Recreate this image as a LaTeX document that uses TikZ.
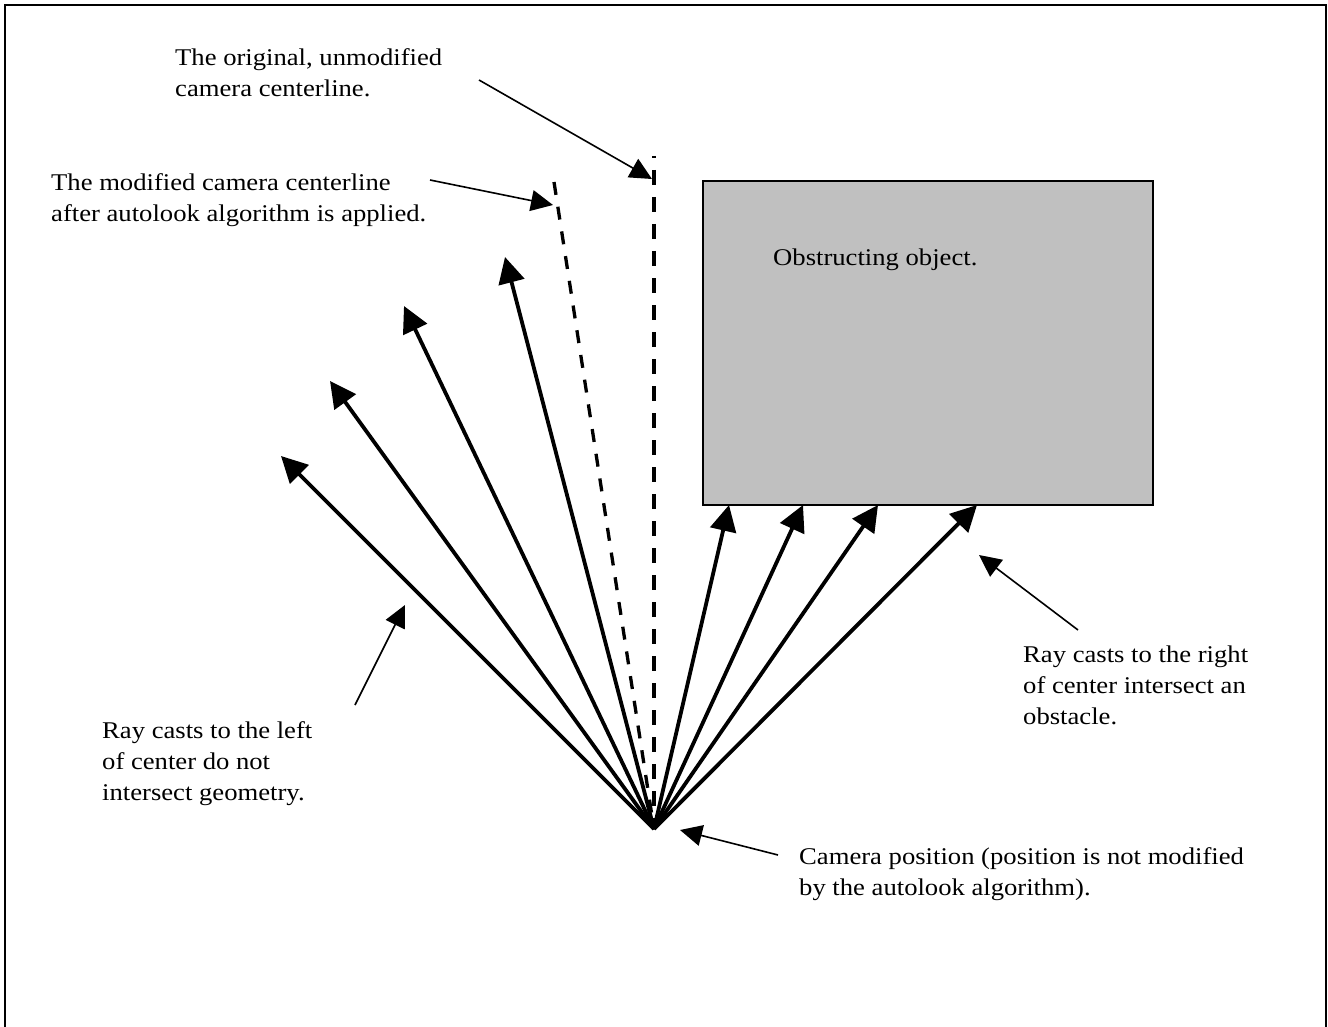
\documentclass[tikz,border=0pt]{standalone}
\usepackage{fontspec}
\setmainfont{Liberation Serif}[FakeStretch=1.11]
\usetikzlibrary{arrows.meta}
\definecolor{objgray}{RGB}{192,192,192}

\begin{document}
\begin{tikzpicture}
[x=1pt,y=-1pt,%
  ray/.style={line width=3.8pt,-{Triangle[length=26pt,width=26pt]}},%
  note/.style={line width=1.6pt,-{Triangle[length=22pt,width=21pt]}},%
  centre/.style={line width=3.8pt,dash pattern=on 15pt off 12pt},%
  label/.style={anchor=north west,inner sep=0pt,align=left,%
    font=\fontsize{24}{31}\selectfont}]
\useasboundingbox (0,0) rectangle (1328,1027);
\draw[line width=2pt] (5,1027) |- (1326,5) -- (1326,1027);
%% the obstacle
\node[draw,line width=1.5pt,fill=objgray,minimum width=450pt,minimum height=324pt,
  inner sep=0pt] (obst) at (928,343) {};
\node[label] (obsttext) at (773,249) {Obstructing object.};
%% camera and ray tips
\coordinate (cam) at (654,829);
\foreach \x/\y [count=\i] in {281/456,330/381,404/306,505/257,729/505,803/505,878/505,977/505}
  \coordinate (tip\i) at (\x,\y);
\foreach \i in {1,...,8}
  \draw[ray] (cam) -- (tip\i);
%% centerlines
\coordinate (origtop) at (654,156);
\coordinate (modtop) at (554,182);
\draw[centre,dash phase=13pt] (origtop) -- (cam);
\draw[centre,line width=3.3pt,dash pattern=on 13pt off 12pt] (modtop) -- (cam);
%% labels
\node[label] (orig) at (175,48) {The original, unmodified\\camera centerline.};
\node[label] (modif) at (51,173) {The modified camera centerline\\after autolook algorithm is applied.};
\node[label] (leftnote) at (102,721) {Ray casts to the left\\of center do not\\intersect geometry.};
\node[label] (rightnote) at (1023,646) {Ray casts to the right\\of center intersect an\\obstacle.};
\node[label] (camnote) at (799,847) {Camera position (position is not modified\\by the autolook algorithm).};
%% pointers
\coordinate (origfrom) at (479,80);
\coordinate (origto) at (652,179);
\coordinate (modfrom) at (430,180);
\coordinate (modto) at (553,205);
\coordinate (leftfrom) at (355,705);
\coordinate (leftto) at (405,605);
\coordinate (rightfrom) at (1078,630);
\coordinate (rightto) at (979,555);
\coordinate (camfrom) at (778,855);
\coordinate (camto) at (680,830);
\draw[note] (origfrom) -- (origto);
\draw[note] (modfrom) -- (modto);
\draw[note] (leftfrom) -- (leftto);
\draw[note] (rightfrom) -- (rightto);
\draw[note] (camfrom) -- (camto);
\end{tikzpicture}
\end{document}
